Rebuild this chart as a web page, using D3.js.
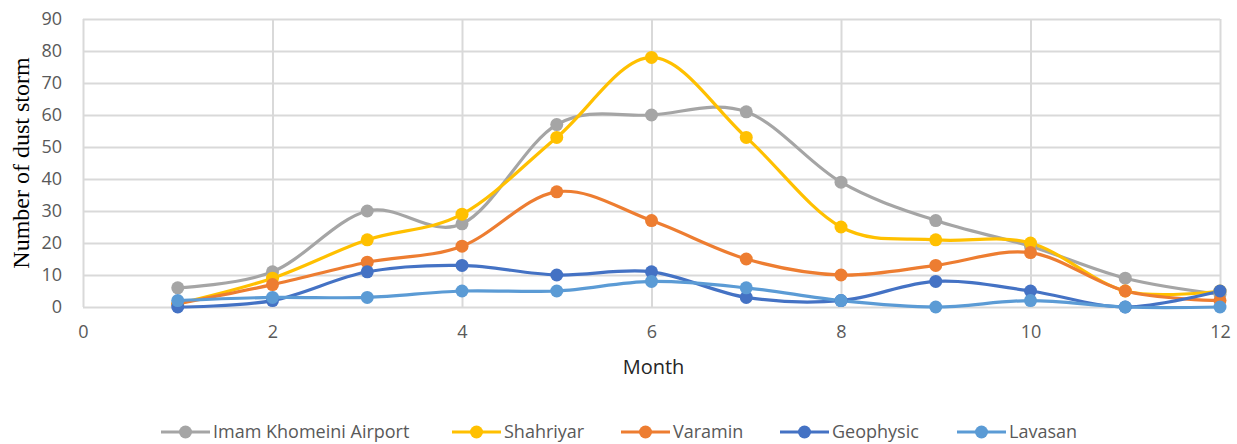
<!DOCTYPE html>
<html>
<head>
<meta charset="utf-8">
<script src="https://cdn.jsdelivr.net/npm/d3@7"></script>
<style>
  body { margin: 0; background: #fff; }
  svg { display: block; }
</style>
</head>
<body>
<svg id="chart" width="1237" height="444"></svg>
<script>
const months = [1, 2, 3, 4, 5, 6, 7, 8, 9, 10, 11, 12];
const imamKhomeini = [6, 11, 30, 26, 57, 60, 61, 39, 27, 19, 9, 4];
const shahriyar = [1, 9, 21, 29, 53, 78, 53, 25, 21, 20, 5, 5];
const varamin = [1, 7, 14, 19, 36, 27, 15, 10, 13, 17, 5, 2];
const geophysic = [0, 2, 11, 13, 10, 11, 3, 2, 8, 5, 0, 5];
const lavasan = [2, 3, 3, 5, 5, 8, 6, 2, 0, 2, 0, 0];
const xTicks = [0, 2, 4, 6, 8, 10, 12];
const yTicks = [0, 10, 20, 30, 40, 50, 60, 70, 80, 90];

const series = [
  { name: "Imam Khomeini Airport", values: imamKhomeini, color: "#a5a5a5" },
  { name: "Shahriyar", values: shahriyar, color: "#ffc000" },
  { name: "Varamin", values: varamin, color: "#ed7d31" },
  { name: "Geophysic", values: geophysic, color: "#4472c4" },
  { name: "Lavasan", values: lavasan, color: "#5b9bd5" }
];

const svg = d3.select("#chart");
const margin = { top: 19, right: 17, bottom: 137, left: 83 };
const width = 1237, height = 444;

const x = d3.scaleLinear().domain([0, 12]).range([margin.left, width - margin.right]);
const y = d3.scaleLinear().domain([0, 90]).range([height - margin.bottom, margin.top]);

const tickFont = "'Open Sans', 'Liberation Sans', sans-serif";

// grid
svg.append("g")
  .attr("class", "y-grid")
  .attr("transform", `translate(${margin.left},0)`)
  .call(d3.axisLeft(y).tickValues(yTicks).tickSize(-(width - margin.left - margin.right)).tickFormat(""))
  .call(g => g.select(".domain").remove())
  .call(g => g.selectAll("line").attr("stroke", "#d9d9d9").attr("stroke-width", 2));

svg.append("g")
  .attr("class", "x-grid")
  .attr("transform", `translate(0,${height - margin.bottom})`)
  .call(d3.axisBottom(x).tickValues(xTicks).tickSize(-(height - margin.top - margin.bottom)).tickFormat(""))
  .call(g => g.select(".domain").remove())
  .call(g => g.selectAll("line").attr("stroke", "#d9d9d9").attr("stroke-width", 2));

// tick labels
svg.append("g")
  .attr("class", "y-axis")
  .attr("transform", `translate(${margin.left},0)`)
  .call(d3.axisLeft(y).tickValues(yTicks).tickSize(0).tickPadding(21))
  .call(g => g.select(".domain").remove())
  .call(g => g.selectAll("text")
    .attr("fill", "#595959")
    .style("font-family", tickFont)
    .style("font-size", "18px"));

svg.append("g")
  .attr("class", "x-axis")
  .attr("transform", `translate(0,${height - margin.bottom})`)
  .call(d3.axisBottom(x).tickValues(xTicks).tickSize(0).tickPadding(18))
  .call(g => g.select(".domain").remove())
  .call(g => g.selectAll("text")
    .attr("fill", "#595959")
    .style("font-family", tickFont)
    .style("font-size", "18px"));

// axis titles
svg.append("text")
  .attr("x", x(6) + 2)
  .attr("y", 374)
  .attr("text-anchor", "middle")
  .attr("fill", "#262626")
  .style("font-family", tickFont)
  .style("font-size", "20px")
  .text("Month");

svg.append("text")
  .attr("transform", `translate(29,${y(45)}) rotate(-90)`)
  .attr("text-anchor", "middle")
  .attr("fill", "#000")
  .style("font-family", "'Liberation Serif', 'DejaVu Serif', serif")
  .style("font-size", "24px")
  .text("Number of dust storm");

// lines
const line = d3.line()
  .x((d, i) => x(months[i]))
  .y(d => y(d))
  .curve(d3.curveCardinal.tension(0));

const plot = svg.append("g").attr("class", "plot-area");

series.forEach(s => {
  plot.append("path")
    .datum(s.values)
    .attr("fill", "none")
    .attr("stroke", s.color)
    .attr("stroke-width", 3.2)
    .attr("d", line);
});

series.forEach(s => {
  plot.append("g")
    .selectAll("circle")
    .data(s.values)
    .join("circle")
    .attr("cx", (d, i) => x(months[i]))
    .attr("cy", d => y(d))
    .attr("r", 6.5)
    .attr("fill", s.color);
});

// legend
const legendX = [161, 452, 621, 780, 957];
const legend = svg.append("g").attr("class", "legend");
series.forEach((s, i) => {
  const g = legend.append("g").attr("transform", `translate(${legendX[i]},432)`);
  g.append("line").attr("x1", 0).attr("x2", 49).attr("y1", 0).attr("y2", 0)
    .attr("stroke", s.color).attr("stroke-width", 3.2);
  g.append("circle").attr("cx", 24.5).attr("cy", 0).attr("r", 6.5).attr("fill", s.color);
  g.append("text")
    .attr("x", 52)
    .attr("y", 0)
    .attr("dy", "0.35em")
    .attr("fill", "#595959")
    .style("font-family", tickFont)
    .style("font-size", "18px")
    .text(s.name);
});
</script>
</body>
</html>
